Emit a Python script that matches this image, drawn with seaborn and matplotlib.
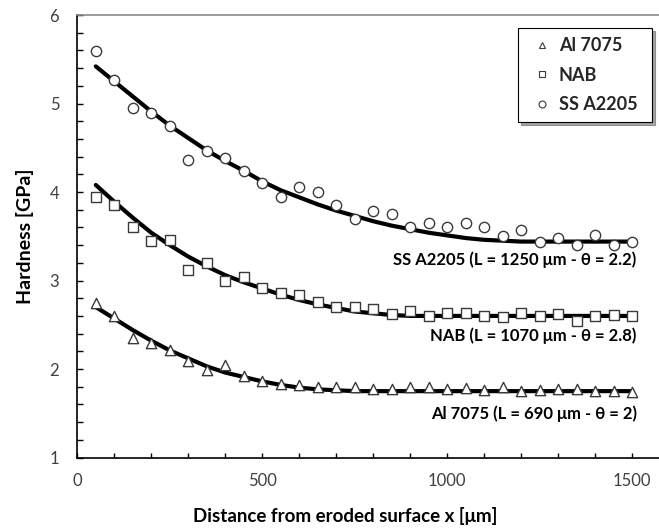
import numpy as np
import pandas as pd
import matplotlib
matplotlib.use('Agg')
import matplotlib.pyplot as plt
import seaborn as sns
from matplotlib.lines import Line2D

sns.set_theme(style='white')
plt.rcParams['font.family'] = ['Lato', 'DejaVu Sans']

# 测量点位置 (μm)
x_pts = [50, 100, 150, 200, 250, 300, 350, 400, 450, 500, 550, 600, 650, 700, 750,
         800, 850, 900, 950, 1000, 1050, 1100, 1150, 1200, 1250, 1300, 1350, 1400, 1450, 1500]

# 硬度测量值 [GPa]
ss_pts = [5.59, 5.265, 4.95, 4.895, 4.744, 4.36, 4.46, 4.39, 4.24, 4.10, 3.94, 4.06, 4.005, 3.855, 3.70,
          3.79, 3.757, 3.60, 3.655, 3.61, 3.655, 3.60, 3.50, 3.57, 3.44, 3.48, 3.40, 3.51, 3.40, 3.44]
nab_pts = [3.945, 3.85, 3.60, 3.445, 3.46, 3.115, 3.20, 3.00, 3.045, 2.92, 2.855, 2.84, 2.757, 2.697, 2.70,
           2.675, 2.62, 2.65, 2.60, 2.63, 2.63, 2.595, 2.59, 2.63, 2.595, 2.62, 2.54, 2.595, 2.61, 2.595]
al_pts = [2.745, 2.595, 2.345, 2.29, 2.21, 2.09, 1.99, 2.04, 1.925, 1.87, 1.83, 1.825, 1.80, 1.80, 1.80,
          1.77, 1.77, 1.80, 1.80, 1.77, 1.79, 1.76, 1.795, 1.75, 1.76, 1.77, 1.77, 1.75, 1.75, 1.74]

# 拟合曲线
ss_fit = [5.42, 5.25, 5.08, 4.91, 4.75, 4.61, 4.47, 4.35, 4.24, 4.12, 4.02, 3.94, 3.86, 3.79, 3.73,
          3.67, 3.62, 3.58, 3.54, 3.51, 3.48, 3.46, 3.45, 3.44, 3.44, 3.44, 3.44, 3.44, 3.44, 3.44]
nab_fit = [4.08, 3.89, 3.71, 3.54, 3.40, 3.27, 3.16, 3.06, 2.98, 2.91, 2.84, 2.78, 2.73, 2.69, 2.65,
           2.63, 2.61, 2.60, 2.60, 2.60, 2.60, 2.60, 2.60, 2.60, 2.60, 2.60, 2.60, 2.60, 2.60, 2.60]
al_fit = [2.70, 2.57, 2.44, 2.32, 2.21, 2.12, 2.03, 1.96, 1.91, 1.86, 1.82, 1.79, 1.77, 1.76, 1.75,
          1.75, 1.75, 1.75, 1.75, 1.75, 1.75, 1.75, 1.75, 1.75, 1.75, 1.75, 1.75, 1.75, 1.75, 1.75]

materials = ['Al 7075', 'NAB', 'SS A2205']
markers = {'Al 7075': '^', 'NAB': 's', 'SS A2205': 'o'}
fit_labels = ['Al 7075 (L = 690 μm - θ = 2)', 'NAB (L = 1070 μm - θ = 2.8)', 'SS A2205 (L = 1250 μm - θ = 2.2)']
label_y = [1.50, 2.38, 3.23]

pts = {'Al 7075': al_pts, 'NAB': nab_pts, 'SS A2205': ss_pts}
fits = {'Al 7075': al_fit, 'NAB': nab_fit, 'SS A2205': ss_fit}

fig = plt.figure(figsize=(6.59, 5.28), dpi=100)
ax = fig.add_axes([0.1173, 0.1335, 0.8983, 0.838])

# 拟合曲线
for m in materials:
    d = pd.DataFrame({'x': x_pts, 'y': fits[m]})
    sns.lineplot(data=d, x='x', y='y', ax=ax, color='black', linewidth=3, zorder=2)
# 测量点
for m in materials:
    d = pd.DataFrame({'x': x_pts, 'y': pts[m]})
    sns.scatterplot(data=d, x='x', y='y', ax=ax, marker=markers[m], s=55,
                    facecolor='white', edgecolor='#3a3a3a', linewidth=1.0, zorder=3)

for lab, yy in zip(fit_labels, label_y):
    ax.text(1512, yy, lab, ha='right', va='center', fontsize=12, fontweight='bold', color='black')

ax.set_xlim(0, 1600)
ax.set_ylim(1, 6)
ax.set_xticks(np.arange(0, 1601, 100), minor=True)
ax.set_xticks([0, 500, 1000, 1500])
ax.set_yticks(np.arange(1, 6.01, 0.2), minor=True)
ax.set_yticks([1, 2, 3, 4, 5, 6])
ax.tick_params(which='both', direction='in', color='black', width=1, left=True, bottom=True)
ax.tick_params(axis='x', which='both', length=3.5, pad=11, labelsize=12, labelcolor='#404040')
ax.tick_params(axis='y', which='both', length=4.5, pad=13, labelsize=12, labelcolor='#404040')

for s in ['left', 'bottom']:
    ax.spines[s].set_color('black')
    ax.spines[s].set_linewidth(1.2)
ax.spines['top'].set_color('#8a8a8a')
ax.spines['top'].set_linewidth(1.2)
ax.spines['right'].set_visible(False)

ax.set_xlabel('Distance from eroded surface x [μm]', fontsize=13.5, fontweight='bold', color='black', va='center')
ax.set_ylabel('Hardness [GPa]', fontsize=14, fontweight='bold', color='black', va='center')
ax.xaxis.set_label_coords(0.453, -0.132)
ax.yaxis.set_label_coords(-0.088, 0.5)

handles = [Line2D([], [], linestyle='none', marker=markers[m], markersize=5,
                  markerfacecolor='white', markeredgecolor='#3a3a3a', markeredgewidth=0.8)
           for m in materials]
leg = ax.legend(handles, materials, loc='upper left', bbox_to_anchor=(0.7444, 0.9706, 0.2264, 0.0),
                mode='expand', frameon=True, fancybox=False, shadow=True,
                handlelength=1.7, handletextpad=0.05,
                labelspacing=0.7, borderpad=0.5, borderaxespad=0,
                prop={'weight': 'bold', 'size': 13})
leg.get_frame().set_edgecolor('black')
leg.get_frame().set_linewidth(0.8)

fig.savefig('out.png', dpi=100)
